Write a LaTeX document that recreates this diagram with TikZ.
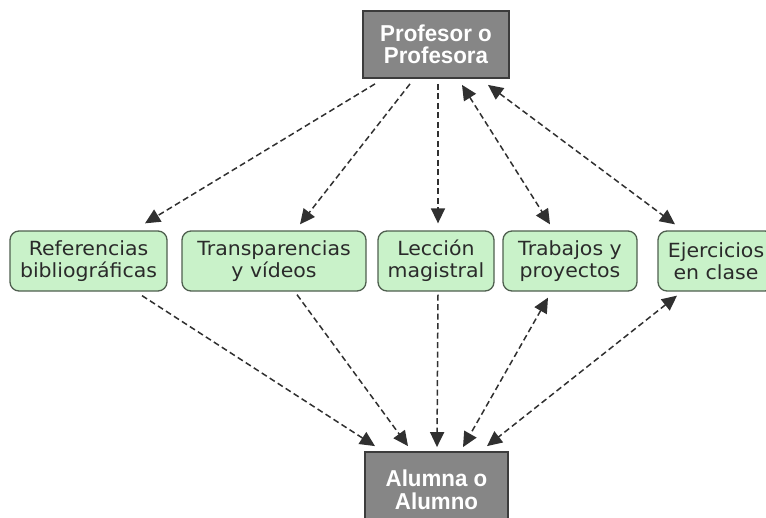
\documentclass[tikz,border=0pt]{standalone}
\usepackage{fontspec}
\setmainfont{DejaVu Sans}
\newfontfamily\boxfont[FakeStretch=1.05]{DejaVu Sans}
\newfontfamily\headfont[FakeStretch=0.97]{Liberation Sans}
\usetikzlibrary{arrows.meta,calc}
\definecolor{headfill}{HTML}{868686}
\definecolor{headdraw}{HTML}{3C3C3C}
\definecolor{boxfill}{HTML}{C9F2C9}
\definecolor{boxdraw}{HTML}{4F5F4F}
\definecolor{boxtext}{HTML}{2A2A2A}
\definecolor{arrcol}{HTML}{303030}
\tikzset{
  headbox/.style={draw=headdraw, line width=1.8pt, fill=headfill, text=white,
    inner sep=0pt, align=center, minimum width=146pt,
    font=\headfont\bfseries\fontsize{23}{22.5}\selectfont},
  concept/.style={draw=boxdraw, line width=1.3pt, fill=boxfill, rounded corners=9pt,
    text=boxtext, inner sep=0pt, align=center, minimum height=60pt,
    font=\boxfont\fontsize{19.5}{22}\selectfont},
  arr/.style={draw=arrcol, line width=1.5pt, dash pattern=on 6pt off 3.5pt,
    -{Triangle[length=15pt,width=14pt]}},
  arrboth/.style={arr, {Triangle[length=15pt,width=14pt]}-{Triangle[length=15pt,width=14pt]}}
}
\begin{document}
\begin{tikzpicture}[x=1pt,y=-1pt]
\useasboundingbox (0,0) rectangle (766,517);
% main nodes
\node[headbox, minimum height=67pt] (prof) at (436,44.5) {Profesor o\\Profesora};
\node[headbox, minimum height=76pt, minimum width=143pt] (alum) at (436.5,490) {Alumna o\\Alumno};
\node[concept, minimum width=157pt] (ref) at (88.5,261) {Referencias\\bibliográficas};
\node[concept, minimum width=184pt] (trans) at (274,261) {Transparencias\\y vídeos};
\node[concept, minimum width=116pt] (lec) at (436,261) {Lección\\magistral};
\node[concept, minimum width=134pt] (trab) at (570,261) {Trabajos y\\proyectos};
\node[concept, minimum width=116pt] (ejer) at (716,261) {Ejercicios\\en clase};
% end points
\coordinate (p1) at ($(prof.south)+(-61,5)$);
\coordinate (p2) at ($(prof.south)+(-26,5)$);
\coordinate (p3) at ($(prof.south)+(2,5)$);
\coordinate (p4) at ($(prof.south)+(26,6)$);
\coordinate (p5) at ($(prof.south)+(52,6)$);
\coordinate (r1) at ($(ref.north)+(56.5,-7)$);
\coordinate (t1) at ($(trans.north)+(26,-6)$);
\coordinate (l1) at ($(lec.north)+(2,-7)$);
\coordinate (w1) at ($(trab.north)+(-20,-6)$);
\coordinate (e1) at ($(ejer.north)+(-41,-6)$);
\coordinate (r2) at ($(ref.south)+(53.5,4)$);
\coordinate (t2) at ($(trans.south)+(23,3)$);
\coordinate (l2) at ($(lec.south)+(2,3)$);
\coordinate (w2) at ($(trab.south)+(-22,6)$);
\coordinate (e2) at ($(ejer.south)+(-39,4)$);
\coordinate (a1) at ($(alum.north)+(-61.5,-5)$);
\coordinate (a2) at ($(alum.north)+(-28.5,-5)$);
\coordinate (a3) at ($(alum.north)+(0.5,-4)$);
\coordinate (a4) at ($(alum.north)+(26.5,-4)$);
\coordinate (a5) at ($(alum.north)+(50.5,-5)$);
% connectors
\draw[arr] (p1) -- (r1);
\draw[arr] (p2) -- (t1);
\draw[arr] (p3) -- (l1);
\draw[arrboth] (p4) -- (w1);
\draw[arrboth] (p5) -- (e1);
\draw[arr] (r2) -- (a1);
\draw[arr] (t2) -- (a2);
\draw[arr] (l2) -- (a3);
\draw[arrboth] (w2) -- (a4);
\draw[arrboth] (e2) -- (a5);
\end{tikzpicture}
\end{document}
